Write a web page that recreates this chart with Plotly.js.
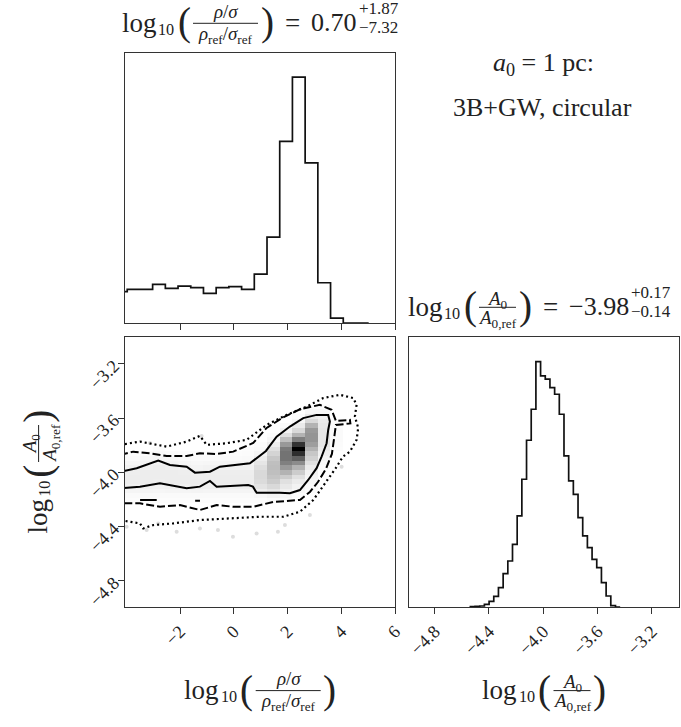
<!DOCTYPE html>
<html><head><meta charset="utf-8">
<script src="https://cdn.plot.ly/plotly-3.0.1.min.js"></script>
<style>html,body{margin:0;padding:0;background:#fff}#chart{width:681px;height:727px}</style>
</head><body><div id="chart"></div>
<script>
// ---------------- data ----------------
// top 1-D histogram of log10((rho/sigma)/(rho_ref/sigma_ref))
const binStartX = -4.442, binWidthX = 0.4731;
const topCounts = [95,102,102,117,105,112,107,90,107,110,102,148,260,550,745,485,122,15,0,0];

// right 1-D histogram of log10(A0/A0,ref)
const binStartY = -4.537, binWidthY = 0.0345;
const rightCounts = [1,2,3,8,17,32,58,100,138,188,273,383,500,593,736,693,683,658,638,578,453,378,338,268,213,178,143,118,73,33,4,0];

// 2-D histogram (relative density), rows start at y-bin index 9, 20 x-bins per row
const densityRowStart = 9;
const density = [
 [.01,.01,.01,.01,.01,.01,.01,.01,.01,.01,.01,.01,.02,.01,0,0,0,0,0,0],
 [.02,.02,.02,.02,.02,.02,.02,.02,.02,.02,.02,.03,.05,.03,.01,0,0,0,0,0],
 [.04,.04,.04,.035,.04,.04,.045,.04,.04,.04,.04,.07,.10,.06,.03,.01,0,0,0,0],
 [.06,.06,.055,.05,.055,.06,.065,.06,.06,.06,.06,.11,.15,.09,.05,.02,0,0,0,0],
 [.07,.07,.07,.065,.07,.07,.07,.07,.07,.07,.07,.14,.20,.12,.08,.03,0,0,0,0],
 [.07,.07,.07,.07,.07,.07,.065,.07,.07,.07,.07,.15,.23,.20,.12,.04,0,0,0,0],
 [.065,.065,.07,.07,.07,.065,.06,.065,.065,.065,.065,.15,.25,.30,.20,.05,0,0,0,0],
 [.05,.05,.06,.065,.06,.055,.045,.05,.05,.05,.05,.13,.26,.40,.30,.08,.01,0,0,0],
 [.035,.035,.045,.05,.045,.04,.03,.035,.035,.035,.035,.10,.25,.50,.45,.12,.02,0,0,0],
 [.02,.02,.03,.035,.03,.025,.02,.02,.02,.02,.025,.07,.22,.55,.62,.18,.04,0,0,0],
 [.01,.01,.015,.02,.015,.01,.01,.01,.01,.01,.015,.04,.17,.55,.82,.22,.06,0,0,0],
 [0,0,0,.01,0,0,0,0,0,0,.01,.02,.12,.52,1.0,.30,.08,.01,0,0],
 [0,0,0,0,0,0,0,0,0,0,0,.01,.07,.40,.80,.38,.10,.015,0,0],
 [0,0,0,0,0,0,0,0,0,0,0,0,.03,.25,.50,.42,.10,.02,0,0],
 [0,0,0,0,0,0,0,0,0,0,0,0,.01,.12,.30,.42,.10,.02,0,0],
 [0,0,0,0,0,0,0,0,0,0,0,0,0,.05,.15,.40,.10,.02,0,0],
 [0,0,0,0,0,0,0,0,0,0,0,0,0,.02,.08,.30,.09,.015,0,0],
 [0,0,0,0,0,0,0,0,0,0,0,0,0,0,.03,.15,.08,.01,0,0],
 [0,0,0,0,0,0,0,0,0,0,0,0,0,0,.01,.08,.06,0,0,0],
 [0,0,0,0,0,0,0,0,0,0,0,0,0,0,0,.03,.03,0,0,0],
 [0,0,0,0,0,0,0,0,0,0,0,0,0,0,0,.01,.01,0,0,0]
];

// contour paths (data units)
const solidX = [-4.2,-3.617,-2.814,-2.378,-1.757,-1.448,-0.889,-0.517,0.599,0.822,1.195,1.593,2.088,2.583,3.082,3.513,3.576,3.513,3.454,3.268,3.082,2.769,2.460,2.088,1.716,0.849,0.711,0.536,-0.145,-0.640,-0.889,-1.262,-1.757,-2.255,-2.750,-3.494,-4.2];
const solidY = [-3.996,-3.970,-3.914,-3.946,-3.959,-4.003,-3.996,-3.959,-3.934,-3.902,-3.843,-3.737,-3.663,-3.601,-3.577,-3.577,-3.626,-3.688,-3.786,-3.885,-3.970,-4.057,-4.131,-4.155,-4.151,-4.151,-4.106,-4.094,-4.101,-4.106,-4.064,-4.106,-4.118,-4.101,-4.081,-4.106,-4.118];
const dashX = [-4.237,-3.744,-3.122,-2.501,-1.757,-1.262,-0.640,-0.022,0.722,1.221,1.838,2.460,3.204,3.640,3.800,4.321,4.339,3.800,3.725,3.651,3.428,3.130,2.832,2.460,1.466,0.722,-0.022,-0.640,-1.262,-2.006,-2.750,-3.494,-4.237];
const dashY = [-3.872,-3.848,-3.860,-3.880,-3.880,-3.860,-3.865,-3.848,-3.784,-3.673,-3.595,-3.536,-3.503,-3.540,-3.621,-3.614,-3.640,-3.651,-3.762,-3.865,-3.976,-4.072,-4.145,-4.204,-4.219,-4.254,-4.254,-4.242,-4.278,-4.242,-4.254,-4.229,-4.229];
const dashIslandX = [[-3.49,-2.87],[-1.44,-1.26]];
const dashIslandY = [[-4.205,-4.205],[-4.21,-4.21]];
const dotX = [-4.237,-3.494,-2.501,-1.757,-1.262,-1.012,-0.268,0.476,1.221,1.965,2.709,3.327,3.949,4.444,4.570,4.507,4.630,4.570,4.321,4.060,3.800,3.390,2.955,2.460,1.838,0.971,-0.022,-1.262,-2.255,-3.000,-3.372,-3.494,-4.237];
const dotY = [-3.798,-3.774,-3.811,-3.774,-3.732,-3.798,-3.786,-3.761,-3.651,-3.577,-3.516,-3.453,-3.429,-3.453,-3.503,-3.589,-3.673,-3.761,-3.848,-3.885,-3.968,-4.081,-4.205,-4.291,-4.328,-4.328,-4.340,-4.352,-4.377,-4.389,-4.414,-4.377,-4.352];

// scattered samples outside the outer contour
const ptsX = [-2.129,-1.262,-0.592,-0.033,0.849,1.641,1.902,2.832,-3.990,-3.245,-1.198,-3.122,4.012,-2.813];
const ptsY = [-4.439,-4.414,-4.426,-4.476,-4.451,-4.439,-4.389,-4.315,-4.402,-4.426,-3.732,-3.784,-3.959,-4.377];

// ticks
const xTicks1 = [-2,0,2,4,6];
const aTicks = [-4.8,-4.4,-4.0,-3.6,-3.2];

// ---------------- figure ----------------
const W = 681, H = 727;
const F = 'Liberation Serif';
const INK = '#222', FRAME = '#333';

function stepXY(start, width, counts){
  const xs=[start], ys=[0];
  counts.forEach((c,i)=>{ xs.push(start+i*width); ys.push(c); });
  xs.push(start+counts.length*width); ys.push(counts[counts.length-1]);
  xs.push(start+counts.length*width); ys.push(0);
  return {xs, ys};
}
const topStep = stepXY(binStartX, binWidthX, topCounts);
const rightStep = stepXY(binStartY, binWidthY, rightCounts);

const traces = [
  {type:'scatter', mode:'lines', x:topStep.xs, y:topStep.ys, xaxis:'x', yaxis:'y',
   line:{shape:'hv', color:'#111', width:1.7}, hoverinfo:'skip'},
  {type:'heatmap', xaxis:'x2', yaxis:'y2', z:density,
   x0:binStartX+0.5*binWidthX, dx:binWidthX,
   y0:binStartY+(densityRowStart+0.5)*binWidthY, dy:binWidthY,
   zmin:0, zmax:1, colorscale:[[0,'#ffffff'],[1,'#000000']], showscale:false, hoverinfo:'skip'},
  {type:'scatter', mode:'markers', x:ptsX, y:ptsY, xaxis:'x2', yaxis:'y2',
   marker:{color:'#dddddd', size:4}, hoverinfo:'skip'},
  {type:'scatter', mode:'lines', x:solidX, y:solidY, xaxis:'x2', yaxis:'y2',
   line:{color:'#000', width:2}, hoverinfo:'skip'},
  {type:'scatter', mode:'lines', x:dashX, y:dashY, xaxis:'x2', yaxis:'y2',
   line:{color:'#000', width:2, dash:'8px,3px'}, hoverinfo:'skip'},
  {type:'scatter', mode:'lines', x:dotX, y:dotY, xaxis:'x2', yaxis:'y2',
   line:{color:'#000', width:2.2, dash:'2px,3px'}, hoverinfo:'skip'},
  {type:'scatter', mode:'lines', x:rightStep.xs, y:rightStep.ys, xaxis:'x3', yaxis:'y3',
   line:{shape:'hv', color:'#111', width:1.7}, hoverinfo:'skip'}
];
dashIslandX.forEach((xs,i)=>traces.push({type:'scatter', mode:'lines', x:xs, y:dashIslandY[i],
  xaxis:'x2', yaxis:'y2', line:{color:'#000', width:2}, hoverinfo:'skip'}));

// panel pixel boxes
const c1 = [124.5, 395], c2 = [408.5, 678.5];
const r1 = [52.5, 323], r2 = [337, 607];
const dx = p => p.map(v=>v/W);
const dy = p => [(H-p[1])/H, (H-p[0])/H];

const tickFont = {family:F, size:18, color:INK};
const base = {showline:true, mirror:true, linecolor:FRAME, linewidth:1, showgrid:false,
  zeroline:false, ticks:'outside', ticklen:6, tickwidth:1, tickcolor:FRAME, tickfont:tickFont, automargin:false};

const xRange1 = [-4.07, 6.0];
const aRange = [-4.993, -3.003];

const layout = {
  width:W, height:H, margin:{l:0,r:0,t:0,b:0}, showlegend:false,
  paper_bgcolor:'#fff', plot_bgcolor:'#fff',
  xaxis:Object.assign({}, base, {domain:dx(c1), anchor:'y', range:xRange1, tickvals:xTicks1, showticklabels:false}),
  yaxis:Object.assign({}, base, {domain:dy(r1), anchor:'x', range:[0, 1.1*Math.max(...topCounts)], ticks:'', showticklabels:false}),
  xaxis2:Object.assign({}, base, {domain:dx(c1), anchor:'y2', range:xRange1, tickvals:xTicks1, tickangle:-45}),
  yaxis2:Object.assign({}, base, {domain:dy(r2), anchor:'x2', range:aRange, tickvals:aTicks, tickformat:'.1f', tickangle:-45}),
  xaxis3:Object.assign({}, base, {domain:dx(c2), anchor:'y3', range:aRange, tickvals:aTicks, tickformat:'.1f', tickangle:-45}),
  yaxis3:Object.assign({}, base, {domain:dy(r2), anchor:'x3', range:[0, 1.1*Math.max(...rightCounts)], ticks:'', showticklabels:false}),
  annotations:[], shapes:[]
};

function addText(px, py, text, fs, rot, xa){
  layout.annotations.push({xref:'paper', yref:'paper', x:px/W, y:1-py/H, text:text, showarrow:false,
    font:{family:F, size:fs, color:INK}, xanchor:xa||'center', yanchor:'middle', textangle:rot||0, borderpad:0});
}
function addLine(x0,y0,x1,y1){
  layout.shapes.push({type:'line', xref:'paper', yref:'paper', x0:x0/W, y0:1-y0/H, x1:x1/W, y1:1-y1/H,
    line:{color:INK, width:1}});
}

// log10( num / den ) [= val ^sup _sub]
function expr(o){
  const S=o.S, k=S/27;
  const map = (u,v) => o.rot ? [o.ox+v, o.oy-u] : [o.ox+u, o.oy+v];
  const put = (u,v,t,fs,xa) => { const p=map(u,v); addText(p[0], p[1], t, fs, o.rot?-90:0, xa); };
  put(0.64*S, -0.3375*S, 'log', S);
  put(36*k+0.3*S, 3.3*k-0.3375*0.6*S, '10', 0.6*S);
  const pf = 1.45*S, pv = -6.2*k - 0.079*pf;
  put(62*k, pv, '(', pf);
  const fx = 71*k, fw = o.fw*k;
  put(fx+fw/2, o.numV*k - 0.3375*0.7*S + (o.numSub?0.117*0.7*S:0), o.num, 0.7*S);
  const a = map(fx,-8.4*k), b = map(fx+fw,-8.4*k);
  addLine(a[0],a[1],b[0],b[1]);
  put(fx+fw/2, 7.5*k - 0.3375*0.7*S + 0.117*0.7*S, o.den, 0.7*S);
  put(fx+fw+9*k, pv, ')', pf);
  if(o.tail){
    const vs = 26, ss = 17;
    put(fx+fw+34.5*k, -0.3375*S, '=', S);
    put(fx+fw+52*k, -0.3375*vs, o.tail.val, vs, 'left');
    const sx = fx+fw+52*k+o.tail.valW*vs+2*k;
    put(sx, -23.2*k, o.tail.sup, ss, 'left');
    put(sx, -4.2*k, o.tail.sub, ss, 'left');
  }
}
const rhoNum = '<i>ρ</i>/<i>σ</i>';
const rhoDen = '<i>ρ</i><sub>ref</sub>/<i>σ</i><sub>ref</sub>';
const aNum = '<i>A</i><sub>0</sub>';
const aDen = '<i>A</i><sub>0,ref</sub>';

// valW: width of the value text in em
expr({ox:122, oy:31.7, S:27, rot:0, num:rhoNum, den:rhoDen, fw:65, numV:-14.2, numSub:false,
  tail:{val:'0.70', valW:1.75, sup:'+1.87', sub:'−7.32'}});
expr({ox:408, oy:315.7, S:27, rot:0, num:aNum, den:aDen, fw:37, numV:-12, numSub:true,
  tail:{val:'−3.98', valW:2.314, sup:'+0.17', sub:'−0.14'}});
expr({ox:184.7, oy:699, S:27, rot:0, num:rhoNum, den:rhoDen, fw:65, numV:-14.2, numSub:false});
expr({ox:482.5, oy:699, S:27, rot:0, num:aNum, den:aDen, fw:37, numV:-12, numSub:true});
expr({ox:47, oy:533, S:27, rot:1, num:aNum, den:aDen, fw:37, numV:-12, numSub:true});

addText(543.5, 64, '<i>a</i><sub>0</sub> = 1 pc:', 26);
addText(542.5, 107, '3B+GW, circular', 26);

Plotly.newPlot('chart', traces, layout, {staticPlot:true, displayModeBar:false});
</script></body></html>
